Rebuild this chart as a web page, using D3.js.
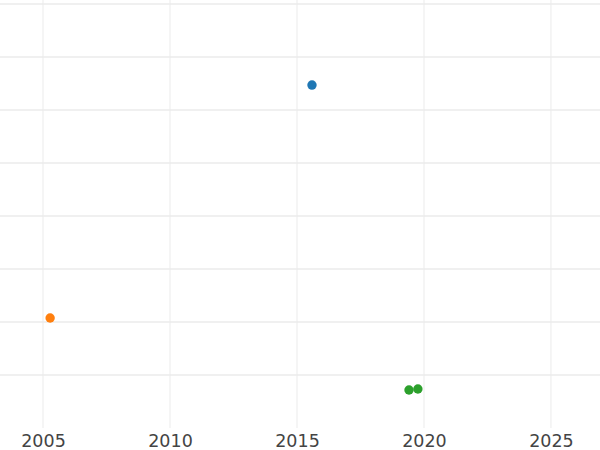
<!DOCTYPE html>
<html><head><meta charset="utf-8">
<script src="https://cdn.jsdelivr.net/npm/d3@7"></script>
<style>html,body{margin:0;padding:0;background:#fff;}</style>
</head><body>
<svg id="chart" width="600" height="450"></svg>
<script>
const years = [2015.59, 2005.28, 2019.41, 2019.76];
const values = [6.47, 2.075, 0.717, 0.736];
const groups = ["A", "B", "C", "C"];
const groupNames = ["A", "B", "C"];
const colors = ["#1f77b4", "#ff7f0e", "#2ca02c"];
const xTicks = [2005, 2010, 2015, 2020, 2025];
const yTicks = [1, 2, 3, 4, 5, 6, 7, 8];

const svg = d3.select("#chart");
const x = d3.scaleLinear().domain([2003.307, 2026.93]).range([0, 600]);
const y = d3.scaleLinear().domain([0, 8.075]).range([428, 0]);
const color = d3.scaleOrdinal().domain(groupNames).range(colors);

const grid = svg.append("g");
grid.selectAll("line.h").data(yTicks).join("line")
  .attr("x1", 0).attr("x2", 600)
  .attr("y1", d => y(d)).attr("y2", d => y(d))
  .attr("stroke", "#ebebeb").attr("stroke-width", 1.3);
grid.selectAll("line.v").data(xTicks).join("line")
  .attr("x1", d => x(d)).attr("x2", d => x(d))
  .attr("y1", 0).attr("y2", 428)
  .attr("stroke", "#ebebeb").attr("stroke-width", 1);

const xAxis = d3.axisBottom(x).tickValues(xTicks).tickFormat(d3.format("d")).tickSize(0).tickPadding(7);
const ax = svg.append("g").attr("transform", "translate(0,428)").call(xAxis);
ax.select(".domain").remove();
ax.attr("font-family", null).attr("font-size", null);
ax.selectAll("text").style("font-family", "'DejaVu Sans'").style("font-size", "17.5px").attr("fill", "#444");

const pts = years.map((d, i) => ({x: d, y: values[i], g: groups[i]}));
svg.append("g").selectAll("circle").data(pts).join("circle")
  .attr("cx", d => x(d.x)).attr("cy", d => y(d.y)).attr("r", 4.7)
  .attr("fill", d => color(d.g));
</script>
</body></html>
